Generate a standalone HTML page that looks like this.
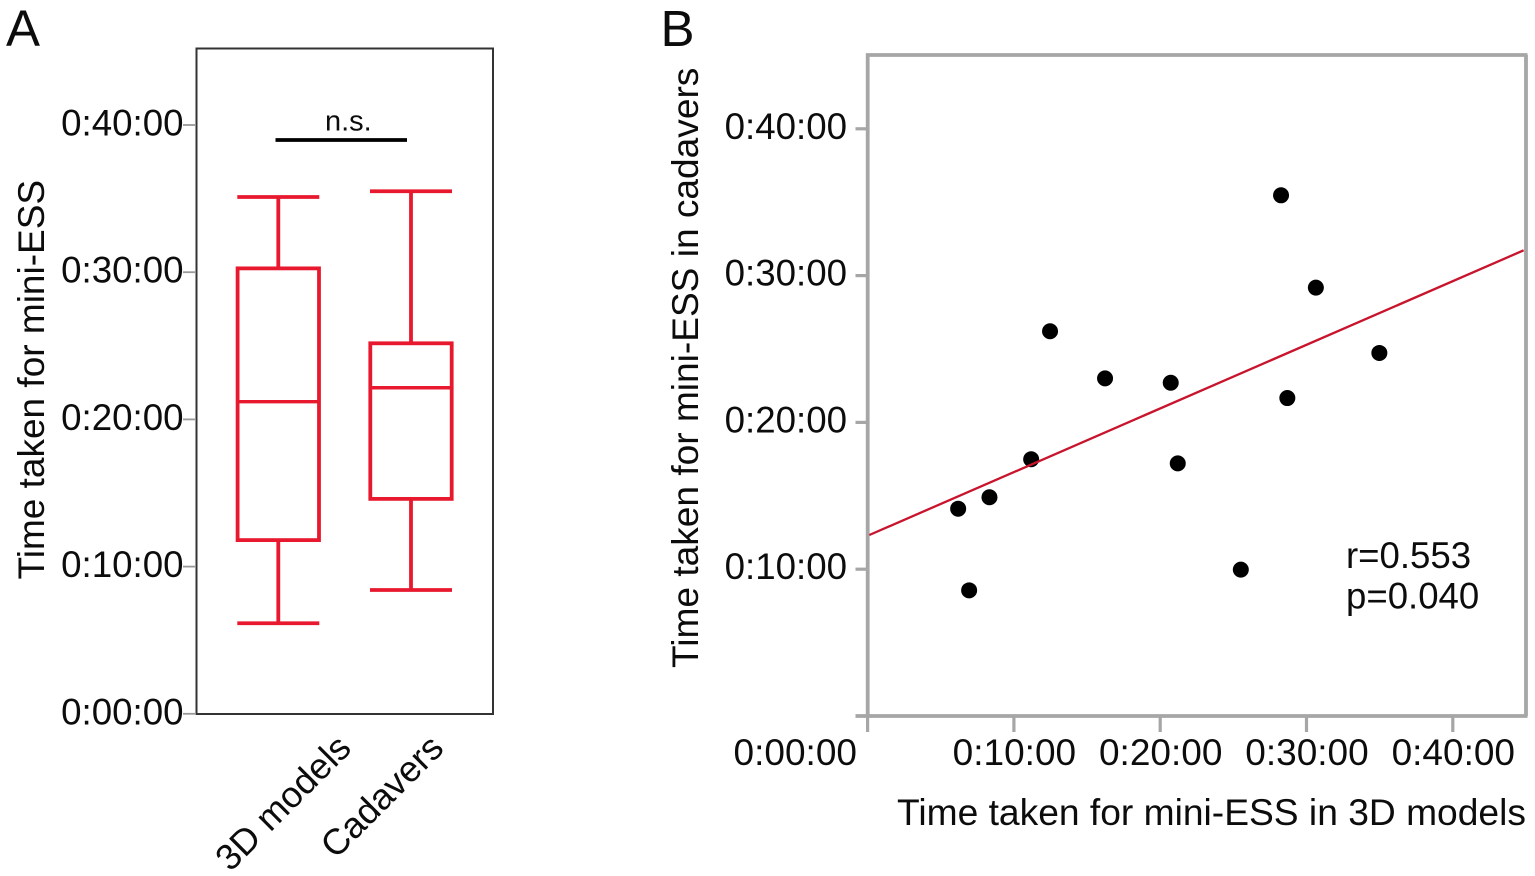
<!DOCTYPE html>
<html lang="en">
<head>
<meta charset="utf-8">
<title>Time taken for mini-ESS</title>
<style>
html,body{margin:0;padding:0;background:#fff;width:1535px;height:876px;overflow:hidden}
svg{display:block}
text{font-family:"Liberation Sans",sans-serif;fill:#0c0c0c}
</style>
</head>
<body>
<svg id="figure" xmlns="http://www.w3.org/2000/svg" width="1535" height="876" viewBox="0 0 1535 876">
  <text x="6" y="46" font-size="51">A</text>
  <text x="660.5" y="46" font-size="51">B</text>
  <rect x="196.5" y="48.5" width="296.5" height="665.5" fill="none" stroke="#333" stroke-width="2"/>
  <text transform="translate(44 579.5) rotate(-90)" font-size="37">Time taken for mini-ESS</text>
  <text transform="translate(698 668) rotate(-90)" font-size="37.1">Time taken for mini-ESS in cadavers</text>
  <text x="897" y="825" font-size="37.2">Time taken for mini-ESS in 3D models</text>
  <line x1="275.5" y1="140" x2="407" y2="140" stroke="#000" stroke-width="3.8"/>
  <text x="325" y="130.5" font-size="29">n.s.</text>
  <text x="1346" y="568" font-size="36.6">r=0.553</text>
  <text x="1346" y="608.5" font-size="36.6">p=0.040</text>
  <line x1="866" y1="55" x2="1527.5" y2="55" stroke="#a6a6a6" stroke-width="3.8"/>
  <line x1="1526" y1="55" x2="1526" y2="716" stroke="#a6a6a6" stroke-width="3.8"/>
  <line x1="867.7" y1="53.5" x2="867.7" y2="716" stroke="#a6a6a6" stroke-width="3.8"/>
  <line x1="855.5" y1="716" x2="1527.5" y2="716" stroke="#a6a6a6" stroke-width="3.8"/>
  <g id="layer-a"></g>
  <g id="layer-b"></g>
</svg>
<script>
var tickValues = [0, 10, 20, 30, 40];
var tickLabels = ["0:00:00", "0:10:00", "0:20:00", "0:30:00", "0:40:00"];
var boxCategories = ["3D models", "Cadavers"];
var whiskerHigh = [35.11, 35.5];
var quartile3 = [30.26, 25.17];
var medians = [21.2, 22.15];
var quartile1 = [11.8, 14.6];
var whiskerLow = [6.15, 8.41];
var scatterX = [6.19, 6.94, 8.33, 11.18, 12.47, 16.23, 20.72, 21.2, 25.51, 28.26, 28.69, 30.64, 34.98];
var scatterY = [14.12, 8.56, 14.9, 17.49, 26.21, 23.0, 22.7, 17.21, 9.97, 35.47, 21.66, 29.18, 24.73];
var fitX = [0.12, 44.84];
var fitY = [12.33, 31.72];

var SVG_NS = "http://www.w3.org/2000/svg";
var layerA = document.getElementById("layer-a");
var layerB = document.getElementById("layer-b");

function yA(v) { return 713.8 - 14.72 * v; }
function xA(i) { return 278.3 + 132.7 * i; }
function xB(v) { return 867.6 + 14.63 * v; }
function yB(v) { return 716 - 14.68 * v; }

function makeLine(parent, x1, y1, x2, y2, color, width) {
  var el = document.createElementNS(SVG_NS, "line");
  el.setAttribute("x1", x1);
  el.setAttribute("y1", y1);
  el.setAttribute("x2", x2);
  el.setAttribute("y2", y2);
  el.setAttribute("stroke", color);
  el.setAttribute("stroke-width", width);
  parent.appendChild(el);
  return el;
}
function makeText(parent, x, y, str, size, anchor) {
  var el = document.createElementNS(SVG_NS, "text");
  el.setAttribute("x", x);
  el.setAttribute("y", y);
  el.setAttribute("font-size", size);
  el.setAttribute("text-anchor", anchor);
  el.textContent = str;
  parent.appendChild(el);
  return el;
}

var RED = "#e8192f";
var GREY = "#a6a6a6";
var el, i;

/* Panel A axis */
for (i = 0; i < tickValues.length; i++) {
  el = makeLine(layerA, 183, yA(tickValues[i]), 196, yA(tickValues[i]), "#999", 1.8);
  
  
  el = makeText(layerA, 183.5, yA(tickValues[i]) + 10.5, tickLabels[i], 36.7, "end");
  
  
}

/* Panel A boxes */
for (i = 0; i < boxCategories.length; i++) {
  var cx = xA(i);
  el = makeLine(layerA, cx, yA(whiskerHigh[i]), cx, yA(quartile3[i]), RED, 3.8);
  
  
  el = makeLine(layerA, cx, yA(quartile1[i]), cx, yA(whiskerLow[i]), RED, 3.8);
  
  
  el = makeLine(layerA, cx - 41, yA(whiskerHigh[i]), cx + 41, yA(whiskerHigh[i]), RED, 3.8);
  
  
  el = makeLine(layerA, cx - 41, yA(whiskerLow[i]), cx + 41, yA(whiskerLow[i]), RED, 3.8);
  
  
  el = document.createElementNS(SVG_NS, "rect");
  el.setAttribute("x", cx - 40.7);
  el.setAttribute("y", yA(quartile3[i]));
  el.setAttribute("width", 81.4);
  el.setAttribute("height", yA(quartile1[i]) - yA(quartile3[i]));
  el.setAttribute("fill", "none");
  el.setAttribute("stroke", RED);
  el.setAttribute("stroke-width", 3.8);
  layerA.appendChild(el);
  
  
  el = makeLine(layerA, cx - 40.7, yA(medians[i]), cx + 40.7, yA(medians[i]), RED, 3.4);
  
  
  var lx = 353 + 92.5 * i;
  el = makeText(layerA, lx, 750, boxCategories[i], 36.3, "end");
  el.setAttribute("transform", "rotate(-45 " + lx + " 750)");
  
  
}

/* Panel B ticks */
for (i = 0; i < tickValues.length; i++) {
  el = makeLine(layerB, xB(tickValues[i]), 716, xB(tickValues[i]), 732, GREY, 3.2);
  
  
  el = makeText(layerB, i === 0 ? 857 : xB(tickValues[i]) + 0.5, 765, tickLabels[i], 37, i === 0 ? "end" : "middle");
  
  
  if (i > 0) {
    el = makeLine(layerB, 855.5, yB(tickValues[i]), 867, yB(tickValues[i]), GREY, 3.2);
    
    
    el = makeText(layerB, 847, yB(tickValues[i]) + 10, tickLabels[i], 36.7, "end");
    
    
  }
}

/* Panel B points */
for (i = 0; i < scatterX.length; i++) {
  el = document.createElementNS(SVG_NS, "circle");
  el.setAttribute("cx", xB(scatterX[i]));
  el.setAttribute("cy", yB(scatterY[i]));
  el.setAttribute("r", 8);
  el.setAttribute("fill", "#000");
  layerB.appendChild(el);
  
  
}

/* Panel B fit line */
el = makeLine(layerB, xB(fitX[0]), yB(fitY[0]), xB(fitX[1]), yB(fitY[1]), "#c8142d", 2.3);


</script>
</body>
</html>
